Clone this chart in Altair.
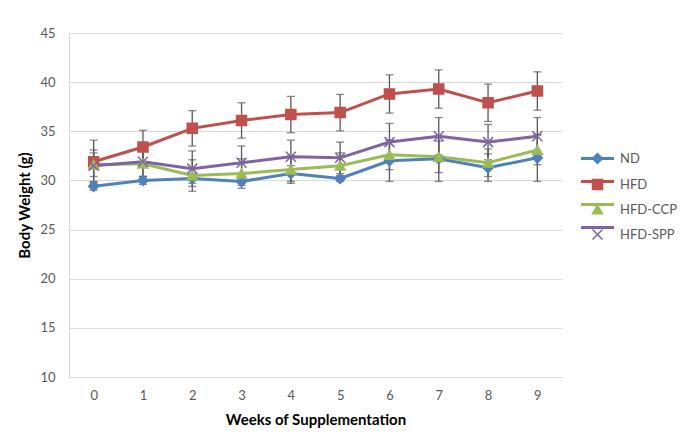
import altair as alt
import pandas as pd

weeks = [0, 1, 2, 3, 4, 5, 6, 7, 8, 9]
groups = ["ND", "HFD", "HFD-CCP", "HFD-SPP"]

nd_mean = [29.4, 30.0, 30.2, 29.9, 30.7, 30.2, 32.0, 32.2, 31.3, 32.3]
hfd_mean = [31.9, 33.4, 35.3, 36.1, 36.7, 36.9, 38.8, 39.3, 37.9, 39.1]
ccp_mean = [31.6, 31.7, 30.5, 30.7, 31.1, 31.5, 32.6, 32.4, 31.8, 33.1]
spp_mean = [31.5, 31.9, 31.2, 31.8, 32.4, 32.3, 33.9, 34.5, 33.9, 34.5]

nd_err = [0.4, 0.4, 0.5, 0.4, 0.8, 0.3, 2.1, 2.3, 1.4, 2.4]
hfd_err = [2.2, 1.7, 1.8, 1.8, 1.85, 1.85, 1.95, 1.95, 1.9, 1.95]
ccp_err = [1.2, 1.3, 1.6, 1.5, 1.4, 1.3, 1.5, 1.6, 1.4, 1.5]
spp_err = [1.6, 1.5, 1.8, 1.7, 1.7, 1.6, 1.9, 1.9, 1.8, 1.9]

colors = ["#4F81BD", "#C0504D", "#9BBB59", "#8064A2"]
shapes = ["diamond", "square", "triangle-up", "M-1,-1L1,1M-1,1L1,-1"]

line_keys = [g + " line" for g in groups]

rows = []
for g, lk, m, e in zip(groups, line_keys, [nd_mean, hfd_mean, ccp_mean, spp_mean],
                       [nd_err, hfd_err, ccp_err, spp_err]):
    for w, mv, ev in zip(weeks, m, e):
        rows.append({"week": w, "group": g, "gline": lk, "mean": mv,
                     "lo": mv - ev, "hi": mv + ev})
df = pd.DataFrame(rows)

FONT = "Lato"
GRAY = "#595959"
LX, LY = 522, 119

x = alt.X("week:O", scale=alt.Scale(type="point", padding=0.5),
          axis=alt.Axis(title="Weeks of Supplementation", labelAngle=0,
                        ticks=False, domainColor="#D9D9D9", labelPadding=12,
                        labelFontSize=13, labelColor=GRAY, titleFontSize=15,
                        titleFontWeight="bold", titleColor="#000000",
                        titlePadding=10, grid=False))
yscale = alt.Scale(domain=[10, 45], nice=False, zero=False)
cscale = alt.Scale(domain=groups, range=colors)
lscale = alt.Scale(domain=line_keys, range=colors)
sscale = alt.Scale(domain=groups, range=shapes)

line_legend = alt.Legend(title=None, orient="none", legendX=LX, legendY=LY,
                         symbolType="M-3.3,0H3.3", symbolSize=100,
                         symbolStrokeWidth=3, labelExpr="''", rowPadding=9,
                         labelFontSize=13, labelOffset=16)
point_legend = alt.Legend(title=None, orient="none", legendX=LX, legendY=LY,
                          symbolSize=100, rowPadding=9, labelFontSize=13,
                          labelOffset=16, labelColor=GRAY, labelFont=FONT,
                          symbolStrokeWidth=1.5)

base = alt.Chart(df)

err = base.mark_rule(color=GRAY, strokeWidth=1.3).encode(
    x=x,
    y=alt.Y("lo:Q", scale=yscale,
            axis=alt.Axis(title="Body Weight (g)", values=[10, 15, 20, 25, 30, 35, 40, 45],
                          ticks=False, domainColor="#D9D9D9", gridColor="#D9D9D9",
                          labelFontSize=13, labelColor=GRAY, labelPadding=14,
                          titleFontSize=15, titleFontWeight="bold",
                          titleColor="#000000", titlePadding=7)),
    y2="hi:Q",
)
cap_lo = base.mark_tick(color=GRAY, orient="horizontal", size=8, thickness=1.3).encode(
    x=x, y=alt.Y("lo:Q", scale=yscale))
cap_hi = base.mark_tick(color=GRAY, orient="horizontal", size=8, thickness=1.3).encode(
    x=x, y=alt.Y("hi:Q", scale=yscale))

lines = base.mark_line(strokeWidth=3).encode(
    x=x, y=alt.Y("mean:Q", scale=yscale),
    color=alt.Color("gline:N", scale=lscale, legend=line_legend),
    detail="group:N")

points = base.mark_point(filled=True, size=100, strokeWidth=1.5, opacity=1).encode(
    x=x, y=alt.Y("mean:Q", scale=yscale),
    fill=alt.Fill("group:N", scale=cscale, legend=point_legend),
    stroke=alt.Stroke("group:N", scale=cscale, legend=point_legend),
    shape=alt.Shape("group:N", scale=sscale, legend=point_legend),
)

chart = alt.layer(err, cap_lo, cap_hi, lines, points).properties(
    width=493, height=344,
    padding={"left": 61, "top": 25, "right": 116, "bottom": 56},
    autosize=alt.AutoSizeParams(type="none"),
).configure_view(stroke=None).configure_axis(
    labelFont=FONT, titleFont=FONT
).configure_legend(
    labelFont=FONT
).properties(background="white")

chart.save("out.html", embed_options={"renderer": "svg", "actions": False})
